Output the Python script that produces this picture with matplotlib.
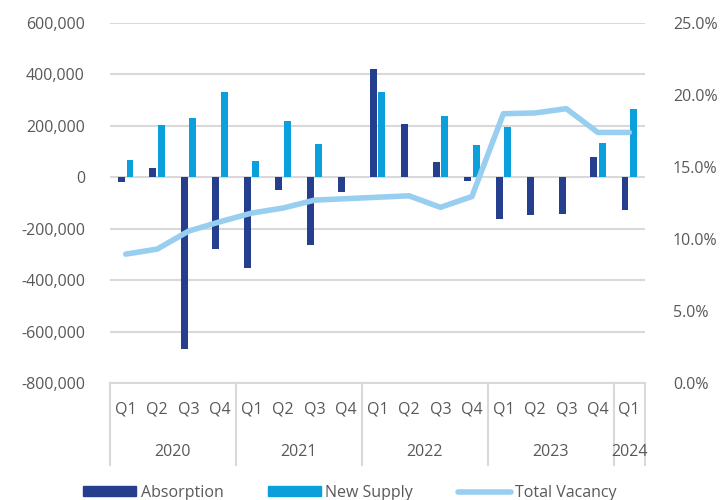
import matplotlib
matplotlib.use("Agg")
import matplotlib.pyplot as plt
from matplotlib.patches import Patch
from matplotlib.lines import Line2D
import matplotlib.transforms as mtransforms
import numpy as np

quarters = ["Q1", "Q2", "Q3", "Q4", "Q1", "Q2", "Q3", "Q4", "Q1", "Q2", "Q3", "Q4",
            "Q1", "Q2", "Q3", "Q4", "Q1"]
years = ["2020", "2021", "2022", "2023", "2024"]
year_counts = [4, 4, 4, 4, 1]
absorption = [-20000, 37000, -667000, -280000, -352000, -49000, -263000, -57000,
              423000, 208000, 61000, -15000, -164000, -148000, -144000, 79000, -129000]
new_supply = [67000, 204000, 231000, 330000, 65000, 219000, 129000, 0,
              333000, 0, 239000, 124000, 195000, 0, 0, 133000, 264000]
total_vacancy = [8.95, 9.3, 10.55, 11.2, 11.8, 12.15, 12.7, 12.8,
                 12.9, 13.0, 12.2, 12.95, 18.7, 18.75, 19.05, 17.4, 17.4]

plt.rcParams['font.family'] = ['Open Sans', 'DejaVu Sans']
TXT = '#595959'
GRID = '#D9D9D9'
C_ABS = '#253F8E'
C_SUP = '#0BA0DB'
C_VAC = '#98CFF0'
FS = 11.5

fig = plt.figure(figsize=(7.28, 5), dpi=100)
ax = fig.add_axes([110/728, (500-383)/500, 535/728, 360/500])
n = len(quarters)
x = np.arange(n)
w = 0.22
ax.bar(x - 0.135, absorption, width=w, color=C_ABS, zorder=3)
ax.bar(x + 0.135, new_supply, width=w, color=C_SUP, zorder=3)
ax.set_xlim(-0.5, n - 0.5)
ax.set_ylim(-800000, 600000)
ax.set_yticks(np.arange(-800000, 600001, 200000))
ax.set_yticklabels([f"{v:,}" for v in range(-800000, 600001, 200000)])
ax.yaxis.grid(True, color=GRID, linewidth=1.5, zorder=0)
ax.set_axisbelow(True)
for s in ['top', 'right', 'left']:
    ax.spines[s].set_visible(False)
ax.spines['bottom'].set_color(GRID)
ax.spines['bottom'].set_linewidth(1.5)
ax.tick_params(axis='y', length=0, labelsize=FS, labelcolor=TXT, pad=18)
ax.set_xticks([])

ax2 = ax.twinx()
ax2.plot(x, total_vacancy, color=C_VAC, linewidth=4.0, solid_capstyle='round', zorder=4)
ax2.set_ylim(0, 25)
ax2.set_yticks(np.arange(0, 25.1, 5))
ax2.set_yticklabels([f"{v:.1f}%" for v in np.arange(0, 25.1, 5)])
for s in ['top', 'right', 'left', 'bottom']:
    ax2.spines[s].set_visible(False)
ax2.tick_params(axis='y', length=0, labelsize=FS, labelcolor=TXT, pad=20)

# category labels
trans = mtransforms.blended_transform_factory(ax.transData, fig.transFigure)
for i, q in enumerate(quarters):
    ax.text(i, 1 - 410/500, q, transform=trans, ha='center', va='center',
            fontsize=FS, color=TXT)
start = 0
bounds = [-0.5]
for y, c in zip(years, year_counts):
    mid = start + (c - 1) / 2
    ax.text(mid, 1 - 452/500, y, transform=trans, ha='center', va='center',
            fontsize=FS, color=TXT)
    start += c
    bounds.append(start - 0.5)
for b in bounds:
    ax.add_line(Line2D([b, b], [1 - 383/500, 1 - 465/500], transform=trans,
                       color=GRID, linewidth=1.5, clip_on=False))

handles = [Patch(color=C_ABS, label='Absorption'),
           Patch(color=C_SUP, label='New Supply'),
           Line2D([0], [0], color=C_VAC, linewidth=4.0, solid_capstyle='round',
                  label='Total Vacancy')]
leg = fig.legend(handles=handles, loc='center', bbox_to_anchor=(350/728, 1 - 493/500),
                 ncol=3, frameon=False, fontsize=FS, handlelength=3.3,
                 handleheight=0.6, columnspacing=2.8, handletextpad=0.3)
for t in leg.get_texts():
    t.set_color(TXT)

fig.savefig('out.png', dpi=100)
